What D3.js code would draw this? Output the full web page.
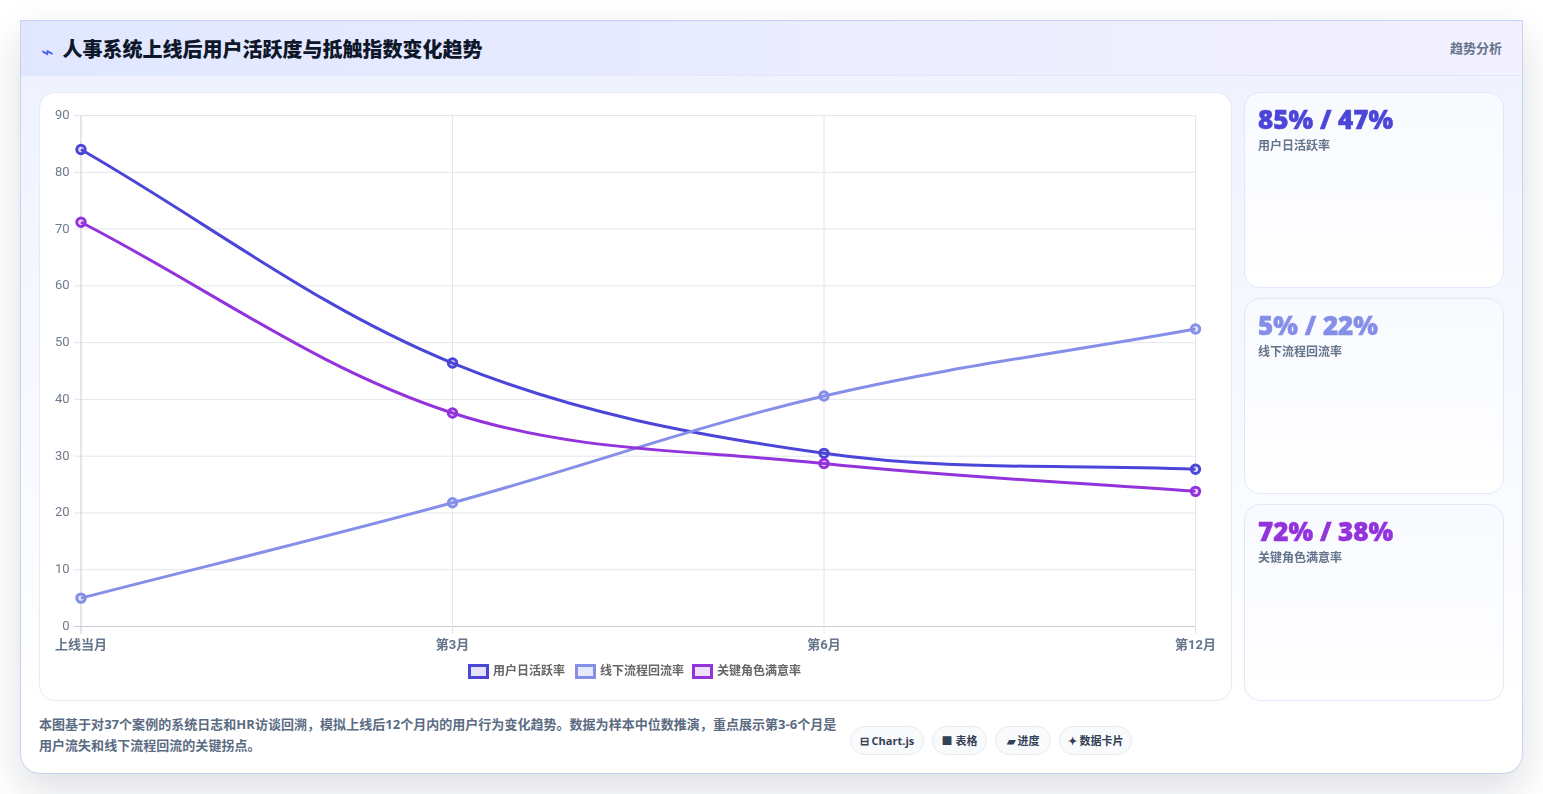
<!DOCTYPE html>
<html lang="zh-CN">
<head>
<meta charset="utf-8">
<title>人事系统上线后用户活跃度与抵触指数变化趋势</title>
<script src="https://cdn.jsdelivr.net/npm/d3@7"></script>
<style>
  * { box-sizing: border-box; }
  html, body { margin: 0; width: 1543px; height: 794px; overflow: hidden; background: #fff; }
  body { font-family: "Noto Sans CJK SC", "Open Sans", sans-serif; position: relative; }
  .abs { position: absolute; }
  #card { left: 20px; top: 20px; width: 1503px; height: 754px; border-radius: 0 0 20px 20px;
    border: 1px solid #c7d2f0; border-top-color: #c7d2fe;
    background: linear-gradient(180deg, #eef2ff 0%, #ffffff 92%);
    box-shadow: 0 16px 40px rgba(15, 23, 42, .14); }
  #header { left: 21px; top: 21px; width: 1501px; height: 55px;
    background: linear-gradient(90deg, #e0e7ff 0%, #f3f0ff 100%);
    border-bottom: 1px solid #e2e8f8; }
  #bolt { left: 41px; top: 37px; font-size: 21px; color: #3f5fe0; line-height: 26px; }
  #title { left: 62.5px; top: 35px; font-size: 20px; line-height: 28px; font-weight: 900; color: #0f172a; white-space: nowrap; }
  #tag { left: 1450px; top: 37.5px; font-size: 13px; line-height: 20px; font-weight: 700; color: #64748b; white-space: nowrap; }
  #panel { left: 39px; top: 92px; width: 1193px; height: 609px; background: #fff; border: 1px solid #e6ebf5; border-radius: 16px; }
  #chart { left: 0; top: 0; }
  .stat { left: 1244px; width: 260px; border-radius: 16px; border: 1px solid #e0e8f8;
    background: linear-gradient(180deg, #f8faff 0%, #ffffff 100%); }
  .stat b { position: absolute; left: 13px; top: 8px; font-family: "Open Sans", sans-serif; font-weight: 800; font-size: 26px; line-height: 36px; white-space: nowrap; -webkit-text-stroke: .5px currentColor; }
  .stat span { position: absolute; left: 13px; top: 43px; font-size: 12px; line-height: 18px; color: #64748b; font-weight: 700; white-space: nowrap; }
  #note { left: 39px; top: 714px; width: 802px; font-family: "Open Sans", "Noto Sans CJK SC", sans-serif; font-size: 13px; letter-spacing: .03px; line-height: 21px; font-weight: 700; color: #5b6b82; }
  .pill { top: 726px; height: 29px; border-radius: 15px; border: 1px solid #e5eaf2; background: #f8fafc;
    font-family: "Open Sans", "Noto Sans CJK SC", sans-serif;
    font-size: 11px; line-height: 27px; font-weight: 700; color: #334155; text-align: center; white-space: nowrap; }
</style>
</head>
<body>
<div class="abs" id="card"></div>
<div class="abs" id="header"></div>
<div class="abs" id="bolt">⌁</div>
<div class="abs" id="title">人事系统上线后用户活跃度与抵触指数变化趋势</div>
<div class="abs" id="tag">趋势分析</div>
<div class="abs" id="panel"></div>
<div class="abs" id="stats"></div>
<div class="abs" id="note">本图基于对37个案例的系统日志和HR访谈回溯，模拟上线后12个月内的用户行为变化趋势。数据为样本中位数推演，重点展示第3-6个月是用户流失和线下流程回流的关键拐点。</div>
<div class="abs" id="pills"></div>
<svg class="abs" id="chart" width="1543" height="794"></svg>
<script>
// Survey months and the three tracked rates
const months = ["上线当月", "第3月", "第6月", "第12月"];
const dailyActive = [84, 46.4, 30.5, 27.7];
const offlineReturn = [5, 21.8, 40.6, 52.4];
const keyRoleSatisfaction = [71.2, 37.6, 28.7, 23.8];
const seriesNames = ["用户日活跃率", "线下流程回流率", "关键角色满意率"];
const seriesColors = ["#4c46d8", "#868fe8", "#9333dc"];
const seriesFills = ["#e4e3fb", "#e6e8fd", "#efe0fb"];
const yTicks = [0, 10, 20, 30, 40, 50, 60, 70, 80, 90];
const statValues = ["85% / 47%", "5% / 22%", "72% / 38%"];
const toolLabels = ["⊟ Chart.js", "■ 表格", "▰ 进度", "✦ 数据卡片"];

const allSeries = [dailyActive, offlineReturn, keyRoleSatisfaction];
const svg = d3.select("#chart");

const x = d3.scalePoint().domain(months).range([81, 1195.5]);
const y = d3.scaleLinear().domain([0, 90]).range([626.5, 115.5]);

const grid = svg.append("g");
grid.selectAll("line.h").data(yTicks).join("line").attr("class", "h")
  .attr("x1", 74).attr("x2", 1195.5)
  .attr("y1", d => y(d)).attr("y2", d => y(d))
  .attr("stroke", d => d === 0 ? "#c9ccd6" : "#e4e6ec").attr("stroke-width", 1);
grid.selectAll("line.v").data(months).join("line").attr("class", "v")
  .attr("x1", d => x(d)).attr("x2", d => x(d))
  .attr("y1", 115.5).attr("y2", 634)
  .attr("stroke", (d, i) => i === 0 ? "#c9ccd6" : "#e4e6ec").attr("stroke-width", 1);

svg.append("g").selectAll("text").data(yTicks).join("text")
  .attr("x", 69.5).attr("y", d => y(d) - 1).attr("dy", "0.35em")
  .attr("text-anchor", "end")
  .style("font-family", "Roboto, sans-serif")
  .style("font-size", "13px")
  .attr("fill", "#6f7b8c").text(d => d);

svg.append("g").selectAll("text").data(months).join("text")
  .attr("x", d => x(d)).attr("y", 644).attr("dy", "0.35em")
  .attr("text-anchor", "middle")
  .style("font-family", "Roboto, 'Noto Sans CJK SC', sans-serif")
  .style("font-size", "13px").style("font-weight", 700)
  .attr("fill", "#64748b").text(d => d);

// Spline built from each point's neighbours, weighted by segment length
function splinePath(points, tension) {
  const ctrl = points.map((cur, i) => {
    const prev = points[Math.max(i - 1, 0)];
    const next = points[Math.min(i + 1, points.length - 1)];
    const d01 = Math.hypot(cur[0] - prev[0], cur[1] - prev[1]);
    const d12 = Math.hypot(next[0] - cur[0], next[1] - cur[1]);
    const total = d01 + d12;
    const fa = tension * d01 / total;
    const fb = tension * d12 / total;
    return {
      inC: [cur[0] - fa * (next[0] - prev[0]), cur[1] - fa * (next[1] - prev[1])],
      outC: [cur[0] + fb * (next[0] - prev[0]), cur[1] + fb * (next[1] - prev[1])]
    };
  });
  const p = d3.path();
  p.moveTo(points[0][0], points[0][1]);
  for (let i = 1; i < points.length; i++) {
    p.bezierCurveTo(ctrl[i - 1].outC[0], ctrl[i - 1].outC[1], ctrl[i].inC[0], ctrl[i].inC[1], points[i][0], points[i][1]);
  }
  return p.toString();
}

// Markers sit under their line, so the stroke runs across each ring
allSeries.forEach((values, s) => {
  const pts = values.map((v, i) => [x(months[i]), y(v)]);
  const g = svg.append("g");
  g.selectAll("circle").data(pts).join("circle")
    .attr("cx", d => d[0]).attr("cy", d => d[1]).attr("r", 4.2)
    .attr("fill", seriesFills[s]).attr("stroke", seriesColors[s]).attr("stroke-width", 3);
  g.append("path").attr("d", splinePath(pts, 0.35))
    .attr("fill", "none").attr("stroke", seriesColors[s]).attr("stroke-width", 3);
});

// Legend row, centred under the plot
const legendX = [468, 575, 692];
const legend = svg.append("g").selectAll("g").data(seriesNames).join("g")
  .attr("transform", (d, i) => `translate(${legendX[i]},664)`);
legend.append("rect").attr("x", 1.5).attr("y", 1.5).attr("width", 18).attr("height", 12)
  .attr("fill", (d, i) => seriesFills[i]).attr("stroke", (d, i) => seriesColors[i]).attr("stroke-width", 3);
legend.append("text").attr("x", 25).attr("y", 7).attr("dy", "0.35em")
  .style("font-size", "12px").style("font-weight", 700)
  .attr("fill", "#666").text(d => d);

// Summary cards beside the chart
const statTops = [92, 298, 504];
const statHeights = [196, 196, 197];
d3.select("#stats").selectAll("div").data(statValues).join("div")
  .attr("class", "abs stat")
  .style("position", "fixed")
  .style("top", (d, i) => statTops[i] + "px")
  .style("height", (d, i) => statHeights[i] + "px")
  .each(function (d, i) {
    const card = d3.select(this);
    card.append("b").style("color", seriesColors[i]).text(d);
    card.append("span").text(seriesNames[i]);
  });

// Tool pills in the footer
const pillLeft = [850, 932, 995, 1059];
const pillWidth = [74, 55, 56, 73];
d3.select("#pills").selectAll("div").data(toolLabels).join("div")
  .attr("class", "abs pill")
  .style("position", "fixed")
  .style("left", (d, i) => pillLeft[i] + "px")
  .style("width", (d, i) => pillWidth[i] + "px")
  .text(d => d);
</script>
</body>
</html>
